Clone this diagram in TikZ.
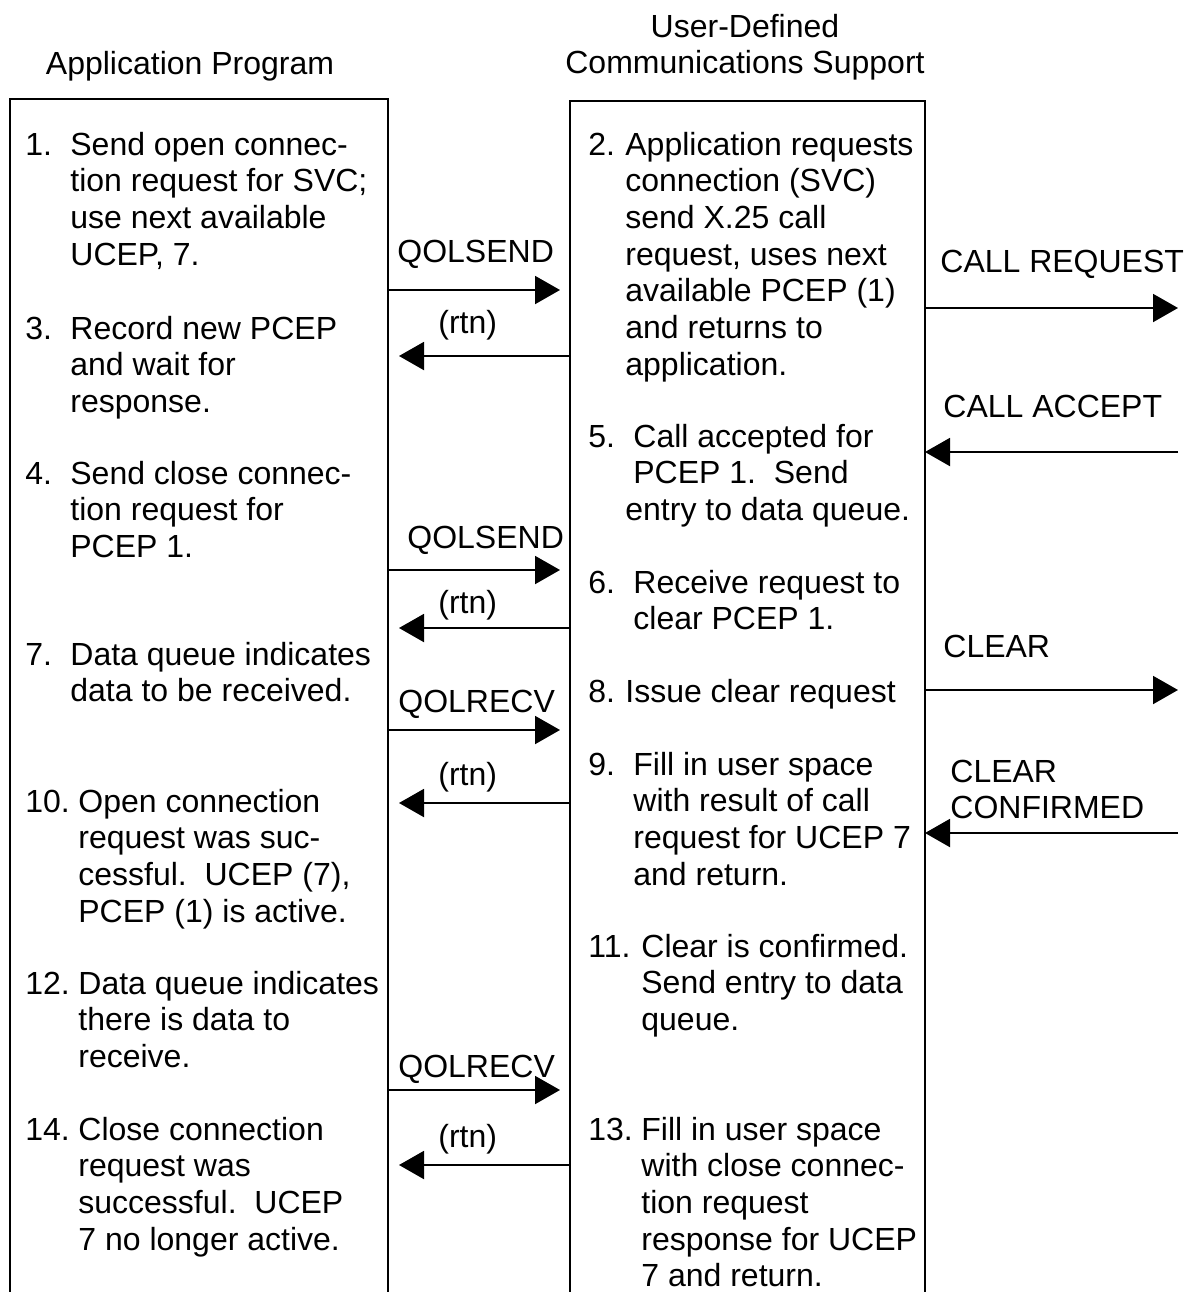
\documentclass[tikz,border=0pt]{standalone}
\usepackage{fontspec}
\setmainfont{Liberation Sans}
\usetikzlibrary{arrows.meta}

% mehrzeiliger Text, Grundlinie = erste Zeile
\newcommand{\itemlines}[1]{\begin{tabular}[t]{@{}l@{}}#1\end{tabular}}

\begin{document}
\begin{tikzpicture}[
    x=0.5pt, y=-0.5pt,
    font=\fontsize{16}{18.35}\selectfont,
    % Stile
    boxline/.style={draw=black, line width=1pt},
    msg/.style={line width=1pt, -{Triangle[length=12.5pt,width=14pt]}},
    callmsg/.style={msg, shorten >=5pt},
    rtnmsg/.style={msg, shorten >=5.5pt},
    num/.style={anchor=base west, inner sep=0pt},
    itemtext/.style={anchor=base west, inner sep=0pt},
    lbl/.style={anchor=base west, inner sep=0pt}
]
    \useasboundingbox (0,0) rectangle (1190,1292);

    % ==========================================
    % Titel und Kästen
    % ==========================================
    \node[anchor=base] (apptitle) at (190,74) {Application Program};
    \node[anchor=base] (udctitle) at (745,37) {\begin{tabular}[t]{@{}c@{}}User-Defined\\Communications Support\end{tabular}};

    \draw[boxline] (10,1292) |- (388,99) -- (388,1292);
    \draw[boxline] (570,1292) |- (925,101) -- (925,1292);

    \coordinate (appR) at (388,0);
    \coordinate (udcL) at (570,0);
    \coordinate (udcR) at (925,0);
    \coordinate (net) at (1178,0);

    % ==========================================
    % Application Program
    % ==========================================
    \node[num] (n1) at (25,155) {1.};
    \node[itemtext] (t1) at (70,155) {\itemlines{Send open connec-\\tion request for SVC;\\use next available\\UCEP, 7.}};
    \node[num] (n3) at (25,339) {3.};
    \node[itemtext] (t3) at (70,339) {\itemlines{Record new PCEP\\and wait for\\response.}};
    \node[num] (n4) at (25,484) {4.};
    \node[itemtext] (t4) at (70,484) {\itemlines{Send close connec-\\tion request for\\PCEP 1.}};
    \node[num] (n7) at (25,665) {7.};
    \node[itemtext] (t7) at (70,665) {\itemlines{Data queue indicates\\data to be received.}};
    \node[num] (n10) at (25,812) {10.};
    \node[itemtext] (t10) at (78,812) {\itemlines{Open connection\\request was suc-\\cessful.\ \ UCEP (7),\\PCEP (1) is active.}};
    \node[num] (n12) at (25,994) {12.};
    \node[itemtext] (t12) at (78,994) {\itemlines{Data queue indicates\\there is data to\\receive.}};
    \node[num] (n14) at (25,1140) {14.};
    \node[itemtext] (t14) at (78,1140) {\itemlines{Close connection\\request was\\successful.\ \ UCEP\\7 no longer active.}};

    % ==========================================
    % User-Defined Communications Support
    % ==========================================
    \node[num] (n2) at (588,155) {2.};
    \node[itemtext] (t2) at (625,155) {\itemlines{Application requests\\connection (SVC)\\send X.25 call\\request, uses next\\available PCEP (1)\\and returns to\\application.}};
    \node[num] (n5) at (588,447) {5.};
    \node[itemtext] (t5) at (633,447) {\itemlines{Call accepted for\\PCEP 1.\ \ Send\\\hspace*{-4pt}entry to data queue.}};
    \node[num] (n6) at (588,593) {6.};
    \node[itemtext] (t6) at (633,593) {\itemlines{Receive request to\\clear PCEP 1.}};
    \node[num] (n8) at (588,702) {8.};
    \node[itemtext] (t8) at (625,702) {Issue clear request};
    \node[num] (n9) at (588,775) {9.};
    \node[itemtext] (t9) at (633,775) {\itemlines{Fill in user space\\with result of call\\request for UCEP 7\\and return.}};
    \node[num] (n11) at (588,957) {11.};
    \node[itemtext] (t11) at (641,957) {\itemlines{Clear is confirmed.\\Send entry to data\\queue.}};
    \node[num] (n13) at (588,1140) {13.};
    \node[itemtext] (t13) at (641,1140) {\itemlines{Fill in user space\\with close connec-\\tion request\\response for UCEP\\7 and return.}};

    % ==========================================
    % Aufrufe und Rückgaben
    % ==========================================
    \node[lbl] (qs1) at (397,262) {QOLSEND};
    \draw[callmsg] (appR |- 0,290) -- (udcL |- 0,290);
    \node[lbl] (rt1) at (438,333) {(rtn)};
    \draw[rtnmsg] (udcL |- 0,356) -- (appR |- 0,356);

    \node[lbl] (qs2) at (407,548) {QOLSEND};
    \draw[callmsg] (appR |- 0,570) -- (udcL |- 0,570);
    \node[lbl] (rt2) at (438,613) {(rtn)};
    \draw[rtnmsg] (udcL |- 0,628) -- (appR |- 0,628);

    \node[lbl] (qr1) at (398,712) {QOLRECV};
    \draw[callmsg] (appR |- 0,730) -- (udcL |- 0,730);
    \node[lbl] (rt3) at (438,785) {(rtn)};
    \draw[rtnmsg] (udcL |- 0,803) -- (appR |- 0,803);

    \node[lbl] (qr2) at (398,1077) {QOLRECV};
    \draw[callmsg] (appR |- 0,1090) -- (udcL |- 0,1090);
    \node[lbl] (rt4) at (438,1147) {(rtn)};
    \draw[rtnmsg] (udcL |- 0,1165) -- (appR |- 0,1165);

    % ==========================================
    % X.25 Netz
    % ==========================================
    \node[lbl] (creq) at (940,272) {CALL REQUEST};
    \draw[msg] (udcR |- 0,308) -- (net |- 0,308);
    \node[lbl] (cacc) at (943,417) {CALL ACCEPT};
    \draw[msg] (net |- 0,452) -- (udcR |- 0,452);
    \node[lbl] (clr) at (943,657) {CLEAR};
    \draw[msg] (udcR |- 0,690) -- (net |- 0,690);
    \node[lbl] (clrc) at (950,782) {\itemlines{CLEAR\\CONFIRMED}};
    \draw[msg] (net |- 0,833) -- (udcR |- 0,833);

\end{tikzpicture}
\end{document}
